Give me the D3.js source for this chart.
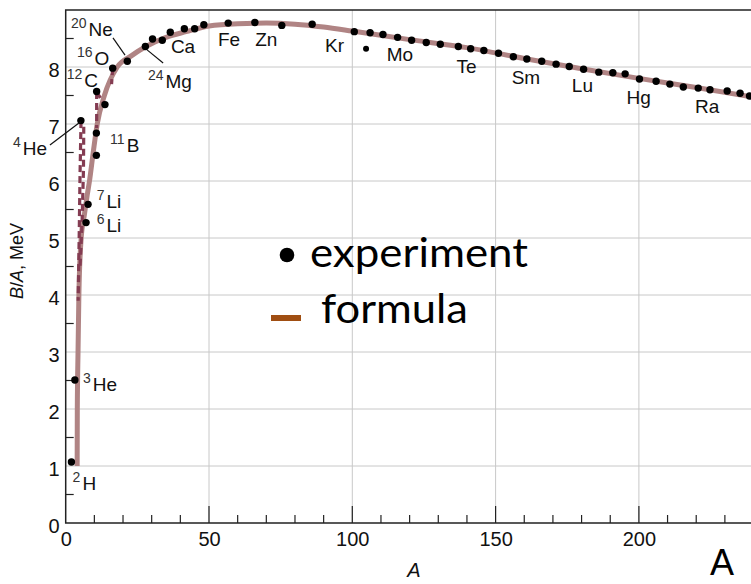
<!DOCTYPE html>
<html>
<head>
<meta charset="utf-8">
<script src="https://d3js.org/d3.v7.min.js"></script>
<style>
    html, body { margin: 0; padding: 0; background: #fff; overflow: hidden; }
    svg { display: block; font-family: 'Liberation Sans', Arial, sans-serif; }
    .grid line { stroke: #c8c8c8; stroke-width: 1; }
    .frame { stroke: #222; stroke-width: 1.5; fill: none; }
    .minor line { stroke: #222; stroke-width: 1.2; }
    .tickLabel { font-size: 20px; fill: #111; }
    .element { font-size: 19px; fill: #111; }
    .leader { stroke: #111; stroke-width: 1.2; fill: none; }
    .formula { stroke: #b08484; stroke-width: 5; fill: none; }
    .pairing { stroke: #843c52; stroke-width: 3.2; stroke-dasharray: 7 4; fill: none; }
    .legendText { font-family: Lato, 'Open Sans', sans-serif; fill: #000; }
</style>
</head>
<body>
<script>
'use strict';

const expA  = [2, 3.2, 5.3, 7.1, 7.8, 10.7, 10.7, 10.8, 13.7, 16.4, 21.5, 27.8, 30.3, 33.7, 36.5, 41.4, 45, 48.2,
               56.7, 66, 75.4, 86, 100.7, 104.8, 106.2, 110.7, 115.8, 120.7, 125.8, 130.7, 137, 141.3, 145.9, 151,
               156.2, 160.9, 166.1, 171.1, 175.7, 180.7, 186, 190.9, 195.2, 200.2, 206, 210.8, 215.5, 220.7, 224.8,
               230.8, 235.3, 238.6];
const expBA = [1.07, 2.51, 7.06, 5.27, 5.59, 6.45, 6.84, 7.57, 7.34, 7.98, 8.10, 8.36, 8.49, 8.47, 8.61, 8.67, 8.67, 8.74,
               8.77, 8.78, 8.73, 8.75, 8.62, 8.32, 8.60, 8.57, 8.52, 8.47, 8.43, 8.40, 8.36, 8.32, 8.29, 8.24,
               8.18, 8.14, 8.10, 8.05, 8.01, 7.96, 7.91, 7.90, 7.88, 7.79, 7.75, 7.70, 7.65, 7.63, 7.60,
               7.58, 7.54, 7.49];

const formulaA  = [4.0, 4.05, 4.3, 4.6, 5.4, 6.5, 7.5, 8.3, 9.6, 11.0, 13.5, 18, 23, 28, 35, 42, 50, 60, 70, 80, 90,
                   100, 120, 140, 160, 180, 200, 220, 240];
const formulaBA = [1.0, 2.0, 3.0, 4.0, 5.0, 5.4, 5.75, 6.0, 6.5, 7.0, 7.5, 8.0, 8.2, 8.36, 8.52, 8.62, 8.72, 8.76, 8.77,
                   8.75, 8.70, 8.63, 8.48, 8.34, 8.15, 7.97, 7.80, 7.64, 7.47];

// Dashed pairing connectors (polylines in A, B/A)
const pairingLines = [
    [[5.35, 7.05], [5.0, 6.1], [4.7, 5.0], [4.35, 3.9]],
    [[6.3, 6.95], [6.2, 6.2], [5.7, 5.25], [5.0, 4.5]],
    [[10.8, 7.56], [10.8, 6.93]],
    [[10.8, 7.56], [13.6, 7.34]],
    [[16.4, 7.98], [16.0, 7.70]]
];

// Nuclide labels: superscript, symbol, anchor (A, B/A) at the start of the label baseline
const labelSup  = ['20', '16', '12', '24', '', '', '', '', '', '', '', '', '', '', '4', '11', '7', '6', '3', '2'];
const labelName = ['Ne', 'O', 'C', 'Mg', 'Ca', 'Fe', 'Zn', 'Kr', 'Mo', 'Te', 'Sm', 'Lu', 'Hg', 'Ra', 'He', 'B', 'Li', 'Li', 'He', 'H'];
const labelA    = [1.85, 3.95, 0.35, 28.7, 36.7, 53.1, 66.1, 90.5, 112, 136.4, 155.6, 176.6, 195.7, 219.6, -18.4, 15.5, 10.8, 10.8, 6.0, 2.4];
const labelBA   = [8.54, 8.04, 7.65, 7.63, 8.25, 8.37, 8.37, 8.26, 8.11, 7.89, 7.71, 7.57, 7.35, 7.19, 6.46, 6.51, 5.53, 5.11, 2.32, 0.58];

// Leader lines from a label to its point
const leaderLines = [
    [[16.5, 8.51], [20.7, 8.21]],
    [[28.4, 8.30], [34.0, 8.07]],
    [[-5.5, 6.63], [5.2, 7.04]]
];

const xTicks = [0, 50, 100, 150, 200];
const yTicks = [0, 1, 2, 3, 4, 5, 6, 7, 8];

(function () {

    function getPlotArea() {
        return {
            svg: { width: 751, height: 584 },
            left: 65.7,
            bottom: 523,
            top: 10,
            pxPerA: 2.866
        };
    }

    function makeScales(plot) {
        return {
            x: d3.scaleLinear()
                .domain([0, 240])
                .range([plot.left, plot.left + 240 * plot.pxPerA]),
            y: d3.scaleLinear()
                .domain([0, 9])
                .range([plot.bottom, plot.top])
        };
    }

    function appendGrid(svg, scales) {
        const grid = svg.append('g').attr('class', 'grid');
        grid.selectAll('.h')
            .data(d3.range(1, 9))
            .enter().append('line')
            .attr('x1', scales.x(0)).attr('x2', scales.x(240))
            .attr('y1', d => scales.y(d)).attr('y2', d => scales.y(d));
        grid.selectAll('.v')
            .data(xTicks.slice(1))
            .enter().append('line')
            .attr('x1', d => scales.x(d)).attr('x2', d => scales.x(d))
            .attr('y1', scales.y(0)).attr('y2', scales.y(9));
    }

    function appendAxes(svg, scales) {
        // minor and major ticks drawn inside the plot
        const minor = svg.append('g').attr('class', 'minor');
        minor.selectAll('.mx')
            .data(d3.range(10, 240, 10))
            .enter().append('line')
            .attr('x1', d => scales.x(d)).attr('x2', d => scales.x(d))
            .attr('y1', scales.y(0))
            .attr('y2', d => scales.y(0) - (d % 50 === 0 ? 17 : 8));
        minor.selectAll('.my')
            .data(d3.range(0.5, 9, 1))
            .enter().append('line')
            .attr('x1', scales.x(0)).attr('x2', scales.x(0) + 8)
            .attr('y1', d => scales.y(d)).attr('y2', d => scales.y(d));

        const xAxis = svg.append('g')
            .attr('transform', 'translate(0,' + scales.y(0) + ')')
            .call(d3.axisBottom(scales.x).tickValues(xTicks).tickSize(0).tickPadding(9));
        const yAxis = svg.append('g')
            .attr('transform', 'translate(' + scales.x(0) + ',0)')
            .call(d3.axisLeft(scales.y).tickValues(yTicks).tickSize(0).tickPadding(6));
        [xAxis, yAxis].forEach(ax => {
            ax.select('.domain').remove();
            ax.selectAll('text').attr('class', 'tickLabel').attr('font-family', null).attr('font-size', null);
        });
        yAxis.selectAll('text').attr('dy', '0.45em');

        // frame: left axis, bottom axis, top border
        svg.append('path')
            .attr('class', 'frame')
            .attr('d', 'M' + scales.x(240) + ',' + scales.y(9) + 'H' + scales.x(0) + 'V' + scales.y(0) + 'H' + scales.x(240));
    }

    function appendAxisTitles(svg, scales) {
        const yTitle = svg.append('text')
            .attr('transform', 'translate(23,261) rotate(-90)')
            .attr('text-anchor', 'middle')
            .attr('font-size', 18)
            .attr('fill', '#111');
        yTitle.append('tspan').attr('font-style', 'italic').text('B');
        yTitle.append('tspan').text('/');
        yTitle.append('tspan').attr('font-style', 'italic').text('A');
        yTitle.append('tspan').text(', MeV');

        svg.append('text')
            .attr('x', 414).attr('y', 577)
            .attr('text-anchor', 'middle')
            .attr('font-size', 20)
            .attr('font-style', 'italic')
            .attr('fill', '#111')
            .text('A');

        // panel letter
        svg.append('text')
            .attr('x', 710).attr('y', 575)
            .attr('font-size', 36)
            .attr('fill', '#000')
            .text('A');
    }

    function appendFormula(svg, scales) {
        const line = d3.line()
            .x(d => scales.x(d[0]))
            .y(d => scales.y(d[1]))
            .curve(d3.curveMonotoneX);
        svg.append('path')
            .attr('class', 'formula')
            .attr('d', line(d3.zip(formulaA, formulaBA)));
    }

    function appendPairing(svg, scales) {
        const line = d3.line()
            .x(d => scales.x(d[0]))
            .y(d => scales.y(d[1]));
        svg.append('g').selectAll('path')
            .data(pairingLines)
            .enter().append('path')
            .attr('class', 'pairing')
            .attr('d', line);
    }

    function appendPoints(svg, scales) {
        svg.append('g').selectAll('circle')
            .data(d3.zip(expA, expBA))
            .enter().append('circle')
            .attr('cx', d => scales.x(d[0]))
            .attr('cy', d => scales.y(d[1]))
            .attr('r', (d, i) => i === 23 ? 3 : 3.7)
            .attr('fill', '#000');
    }

    function appendLabels(svg, scales) {
        const line = d3.line()
            .x(d => scales.x(d[0]))
            .y(d => scales.y(d[1]));
        svg.append('g').selectAll('path')
            .data(leaderLines)
            .enter().append('path')
            .attr('class', 'leader')
            .attr('d', line);

        labelName.forEach((name, i) => {
            const t = svg.append('text')
                .attr('class', 'element')
                .attr('x', scales.x(labelA[i]))
                .attr('y', scales.y(labelBA[i]));
            if (labelSup[i]) {
                t.append('tspan').attr('font-size', 14).attr('fill', '#333').attr('dy', -8).text(labelSup[i]);
                t.append('tspan').attr('dy', 8).attr('dx', 2).text(name);
            } else {
                t.text(name);
            }
        });
    }

    function appendLegend(svg) {
        svg.append('circle')
            .attr('cx', 287).attr('cy', 255).attr('r', 7.3)
            .attr('fill', '#000');
        svg.append('text')
            .attr('class', 'legendText')
            .attr('x', 310).attr('y', 267)
            .attr('font-size', 40)
            .attr('textLength', 218)
            .attr('lengthAdjust', 'spacingAndGlyphs')
            .text('experiment');
        svg.append('line')
            .attr('x1', 271).attr('x2', 301)
            .attr('y1', 318).attr('y2', 318)
            .attr('stroke', '#a04e12').attr('stroke-width', 6);
        svg.append('text')
            .attr('class', 'legendText')
            .attr('x', 321).attr('y', 323)
            .attr('font-size', 40)
            .attr('textLength', 147)
            .attr('lengthAdjust', 'spacingAndGlyphs')
            .text('formula');
    }

    function draw() {
        const plot = getPlotArea();
        const svg = d3.select('body').append('svg')
            .attr('width', plot.svg.width)
            .attr('height', plot.svg.height);
        const scales = makeScales(plot);
        appendGrid(svg, scales);
        appendAxes(svg, scales);
        appendAxisTitles(svg, scales);
        appendFormula(svg, scales);
        appendPairing(svg, scales);
        appendPoints(svg, scales);
        appendLabels(svg, scales);
        appendLegend(svg);
    }

    draw();

})();
</script>
</body>
</html>
